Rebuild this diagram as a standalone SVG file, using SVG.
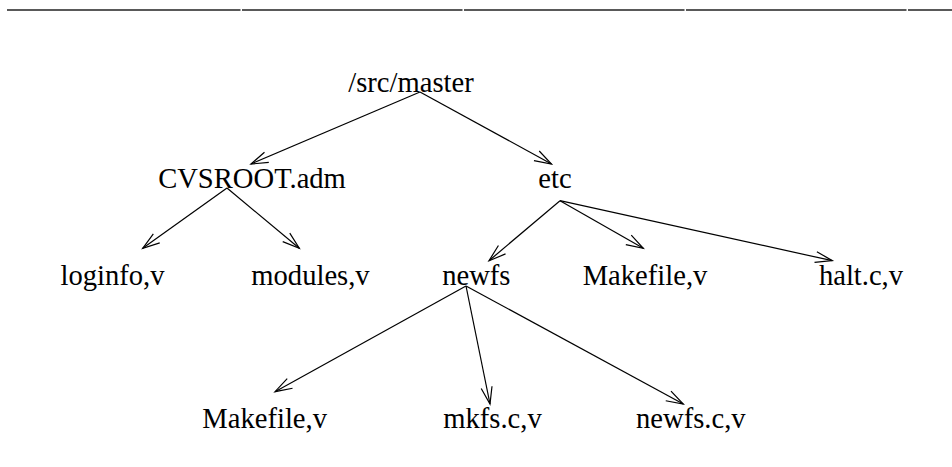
<svg xmlns="http://www.w3.org/2000/svg" width="952" height="467" viewBox="0 0 952 467">
<style>
  text { font-family: "Liberation Serif", "Times New Roman", serif; font-size: 28.6px; fill: #000; text-anchor: middle; }
  .edge { stroke: #000; stroke-width: 1.2; fill: none; marker-end: url(#arrow); }
  .rule { stroke: #222; stroke-width: 1.5; }
</style>
<defs>
  <marker id="arrow" markerUnits="userSpaceOnUse" markerWidth="24" markerHeight="16" refX="20" refY="8" orient="auto" viewBox="0 0 24 16">
    <path d="M3,2.5 L20,8 L3,13.5" fill="none" stroke="#000" stroke-width="1.2"/>
  </marker>
</defs>
<rect width="952" height="467" fill="#fff"/>
<g id="rule">
  <line class="rule" x1="7" y1="10" x2="240.5" y2="10"/>
  <line class="rule" x1="242" y1="10" x2="462.5" y2="10"/>
  <line class="rule" x1="464" y1="10" x2="684.5" y2="10"/>
  <line class="rule" x1="686" y1="10" x2="906.5" y2="10"/>
  <line class="rule" x1="908" y1="10" x2="952" y2="10"/>
</g>
<g id="connectors">
  <line class="edge" x1="420" y1="92" x2="251" y2="164"/>
  <line class="edge" x1="420" y1="92" x2="551.5" y2="164"/>
  <line class="edge" x1="227" y1="188" x2="142.7" y2="248.3"/>
  <line class="edge" x1="227" y1="188" x2="299.3" y2="248.3"/>
  <line class="edge" x1="560" y1="200.7" x2="489" y2="260.7"/>
  <line class="edge" x1="560" y1="200.7" x2="643.3" y2="248.3"/>
  <line class="edge" x1="560" y1="200.7" x2="832.3" y2="260.7"/>
  <line class="edge" x1="466" y1="286" x2="275" y2="391.7"/>
  <line class="edge" x1="466" y1="286" x2="490" y2="404"/>
  <line class="edge" x1="466" y1="286" x2="683.3" y2="404"/>
</g>
<g id="n-src-master"><text x="411" y="92">/src/master</text></g>
<g id="n-cvsroot"><text x="252" y="188">CVSROOT.adm</text></g>
<g id="n-etc"><text x="555" y="188">etc</text></g>
<g id="n-loginfo"><text x="112.5" y="285">loginfo,v</text></g>
<g id="n-modules"><text x="310.5" y="285">modules,v</text></g>
<g id="n-newfs"><text x="476.3" y="285">newfs</text></g>
<g id="n-makefile-etc"><text x="645" y="285">Makefile,v</text></g>
<g id="n-halt"><text x="861" y="285">halt.c,v</text></g>
<g id="n-makefile-newfs"><text x="264.7" y="428">Makefile,v</text></g>
<g id="n-mkfs"><text x="492.5" y="428">mkfs.c,v</text></g>
<g id="n-newfs-c"><text x="690.8" y="428">newfs.c,v</text></g>
</svg>
